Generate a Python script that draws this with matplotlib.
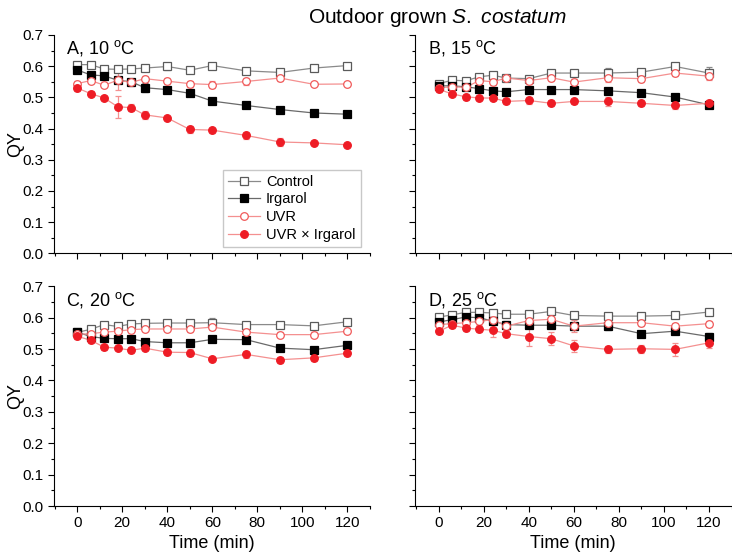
import matplotlib
matplotlib.use("Agg")
import matplotlib.pyplot as plt
from matplotlib.ticker import MultipleLocator

plt.rcParams["font.family"] = ["Liberation Sans", "DejaVu Sans"]
plt.rcParams["mathtext.fontset"] = "custom"
plt.rcParams["mathtext.rm"] = "Liberation Sans"
plt.rcParams["mathtext.it"] = "Liberation Sans:italic"
plt.rcParams["mathtext.default"] = "regular"

TIME = [0, 6, 12, 18, 24, 30, 40, 50, 60, 75, 90, 105, 120]

PANELS = ["A, 10 $^{o}$C", "B, 15 $^{o}$C", "C, 20 $^{o}$C", "D, 25 $^{o}$C"]
SERIES = ["Control", "Irgarol", "UVR", "UVR \u00d7 Irgarol"]

# mean QY per panel, per series
A_CTRL = [0.605, 0.605, 0.591, 0.590, 0.591, 0.594, 0.599, 0.587, 0.602, 0.585, 0.580, 0.594, 0.602]
A_IRG = [0.588, 0.572, 0.569, 0.555, 0.550, 0.531, 0.525, 0.513, 0.488, 0.474, 0.461, 0.450, 0.446]
A_UVR = [0.544, 0.554, 0.539, 0.555, 0.548, 0.560, 0.552, 0.544, 0.541, 0.551, 0.562, 0.542, 0.543]
A_UI = [0.530, 0.512, 0.498, 0.470, 0.467, 0.444, 0.434, 0.397, 0.395, 0.378, 0.357, 0.354, 0.348]

B_CTRL = [0.544, 0.555, 0.553, 0.566, 0.571, 0.562, 0.560, 0.578, 0.578, 0.578, 0.581, 0.599, 0.578]
B_IRG = [0.537, 0.537, 0.534, 0.528, 0.521, 0.518, 0.525, 0.525, 0.525, 0.521, 0.515, 0.501, 0.476]
B_UVR = [0.531, 0.534, 0.532, 0.554, 0.550, 0.562, 0.554, 0.563, 0.549, 0.563, 0.560, 0.578, 0.568]
B_UI = [0.526, 0.511, 0.502, 0.498, 0.498, 0.487, 0.490, 0.481, 0.487, 0.487, 0.481, 0.474, 0.481]

C_CTRL = [0.553, 0.563, 0.578, 0.572, 0.580, 0.582, 0.583, 0.583, 0.584, 0.578, 0.578, 0.574, 0.587]
C_IRG = [0.554, 0.540, 0.534, 0.533, 0.533, 0.524, 0.520, 0.520, 0.531, 0.530, 0.503, 0.498, 0.512]
C_UVR = [0.547, 0.549, 0.554, 0.557, 0.562, 0.564, 0.564, 0.564, 0.570, 0.554, 0.546, 0.546, 0.557]
C_UI = [0.541, 0.528, 0.506, 0.503, 0.496, 0.503, 0.490, 0.489, 0.469, 0.483, 0.466, 0.472, 0.487]

D_CTRL = [0.602, 0.609, 0.617, 0.617, 0.615, 0.611, 0.611, 0.620, 0.607, 0.605, 0.605, 0.607, 0.618]
D_IRG = [0.586, 0.594, 0.602, 0.600, 0.589, 0.578, 0.576, 0.576, 0.573, 0.573, 0.549, 0.557, 0.540]
D_UVR = [0.578, 0.581, 0.584, 0.588, 0.594, 0.573, 0.591, 0.595, 0.573, 0.584, 0.584, 0.573, 0.581]
D_UI = [0.557, 0.576, 0.567, 0.563, 0.560, 0.549, 0.540, 0.533, 0.510, 0.499, 0.501, 0.499, 0.520]

# standard deviations (error bars)
A_CTRL_SD = [0.010, 0.005, 0.005, 0.010, 0.005, 0.005, 0.010, 0.005, 0.005, 0.008, 0.005, 0.005, 0.005]
A_IRG_SD = [0.005, 0.005, 0.005, 0.005, 0.010, 0.015, 0.008, 0.010, 0.008, 0.005, 0.008, 0.010, 0.010]
A_UVR_SD = [0.010, 0.008, 0.005, 0.030, 0.012, 0.008, 0.010, 0.010, 0.010, 0.010, 0.010, 0.005, 0.005]
A_UI_SD = [0.010, 0.008, 0.008, 0.035, 0.012, 0.012, 0.005, 0.012, 0.008, 0.010, 0.012, 0.005, 0.005]

B_CTRL_SD = [0.008, 0.008, 0.008, 0.005, 0.005, 0.005, 0.005, 0.010, 0.010, 0.015, 0.005, 0.005, 0.020]
B_IRG_SD = [0.005, 0.005, 0.008, 0.005, 0.005, 0.010, 0.008, 0.008, 0.008, 0.008, 0.005, 0.005, 0.008]
B_UVR_SD = [0.008, 0.005, 0.008, 0.010, 0.010, 0.005, 0.010, 0.010, 0.010, 0.015, 0.010, 0.010, 0.012]
B_UI_SD = [0.008, 0.005, 0.010, 0.008, 0.008, 0.008, 0.010, 0.010, 0.008, 0.015, 0.010, 0.010, 0.010]

C_CTRL_SD = [0.005, 0.005, 0.005, 0.005, 0.005, 0.005, 0.005, 0.005, 0.015, 0.005, 0.005, 0.005, 0.005]
C_IRG_SD = [0.008, 0.005, 0.005, 0.005, 0.005, 0.005, 0.005, 0.005, 0.005, 0.005, 0.005, 0.008, 0.008]
C_UVR_SD = [0.005, 0.005, 0.005, 0.005, 0.005, 0.008, 0.005, 0.010, 0.008, 0.005, 0.008, 0.008, 0.005]
C_UI_SD = [0.010, 0.008, 0.008, 0.005, 0.010, 0.005, 0.008, 0.010, 0.005, 0.010, 0.010, 0.010, 0.008]

D_CTRL_SD = [0.005, 0.005, 0.005, 0.005, 0.005, 0.005, 0.005, 0.005, 0.005, 0.005, 0.005, 0.008, 0.005]
D_IRG_SD = [0.008, 0.008, 0.008, 0.008, 0.008, 0.010, 0.008, 0.010, 0.010, 0.012, 0.010, 0.010, 0.010]
D_UVR_SD = [0.008, 0.008, 0.008, 0.010, 0.015, 0.010, 0.025, 0.010, 0.020, 0.010, 0.010, 0.010, 0.010]
D_UI_SD = [0.008, 0.008, 0.008, 0.010, 0.020, 0.012, 0.030, 0.020, 0.020, 0.010, 0.012, 0.020, 0.015]

MEANS = [
    [A_CTRL, A_IRG, A_UVR, A_UI],
    [B_CTRL, B_IRG, B_UVR, B_UI],
    [C_CTRL, C_IRG, C_UVR, C_UI],
    [D_CTRL, D_IRG, D_UVR, D_UI],
]
SDS = [
    [A_CTRL_SD, A_IRG_SD, A_UVR_SD, A_UI_SD],
    [B_CTRL_SD, B_IRG_SD, B_UVR_SD, B_UI_SD],
    [C_CTRL_SD, C_IRG_SD, C_UVR_SD, C_UI_SD],
    [D_CTRL_SD, D_IRG_SD, D_UVR_SD, D_UI_SD],
]

# marker, facecolor, edgecolor, line colour
STYLES = [
    ("s", "white", "#5a5a5a", "#8a8a8a"),
    ("s", "black", "black", "#6a6a6a"),
    ("o", "white", "#f05a5a", "#f49090"),
    ("o", "#ee1c25", "#ee1c25", "#f49090"),
]

W, H = 732, 558
fig = plt.figure(figsize=(W / 100, H / 100), dpi=100)

# axes rectangles in pixels: left, top, right, bottom
RECTS = [
    (53.5, 35, 370, 253.3),
    (415, 35, 731.5, 253.3),
    (53.5, 286.3, 370, 506),
    (415, 286.3, 731.5, 506),
]

axes = []
for i, (l, t, r, b) in enumerate(RECTS):
    ax = fig.add_axes([l / W, 1 - b / H, (r - l) / W, (b - t) / H])
    axes.append(ax)
    for j in range(4):
        mk, fc, ec, lc = STYLES[j]
        ax.plot(TIME, MEANS[i][j], color=lc, lw=0.9, zorder=2)
        ax.errorbar(TIME, MEANS[i][j], yerr=SDS[i][j], fmt="none",
                    ecolor=lc, elinewidth=0.9, capsize=2, capthick=0.9, zorder=2)
        ax.plot(TIME, MEANS[i][j], ls="none", marker=mk, ms=5.5,
                mfc=fc, mec=ec, mew=0.9, zorder=3, label=SERIES[j])

    ax.set_xlim(-10.5, 130)
    ax.set_ylim(0, 0.7)
    ax.xaxis.set_major_locator(MultipleLocator(20))
    ax.xaxis.set_minor_locator(MultipleLocator(10))
    ax.yaxis.set_major_locator(MultipleLocator(0.1))
    ax.yaxis.set_minor_locator(MultipleLocator(0.05))
    ax.spines["top"].set_visible(False)
    ax.spines["right"].set_visible(False)
    ax.tick_params(which="major", direction="out", length=4, width=0.8, labelsize=11)
    ax.tick_params(which="minor", direction="out", length=2.5, width=0.8)
    if i < 2:
        ax.tick_params(axis="x", labelbottom=False)
    else:
        ax.set_xlabel("Time (min)", fontsize=13, labelpad=3)
    if i % 2 == 1:
        ax.tick_params(axis="y", labelleft=False)
    else:
        ax.set_yticks([0, 0.1, 0.2, 0.3, 0.4, 0.5, 0.6, 0.7])
        ax.set_yticklabels(["0.0", "0.1", "0.2", "0.3", "0.4", "0.5", "0.6", "0.7"])
        ax.set_ylabel("QY", fontsize=13)
        ax.yaxis.set_label_coords((24 - l) / (r - l), 0.5)
    ax.text(0.04, 0.985, PANELS[i], transform=ax.transAxes, fontsize=13,
            ha="left", va="top")

axes[0].legend(loc="lower right", bbox_to_anchor=(0.97, 0.03), fontsize=10.5,
               frameon=True, fancybox=False, edgecolor="#bbbbbb",
               handlelength=2.2, handletextpad=0.4, borderpad=0.35,
               labelspacing=0.25, borderaxespad=0)
# legend handles show line + marker
leg = axes[0].get_legend()
for h, (mk, fc, ec, lc) in zip(leg.legend_handles, STYLES):
    h.set_linestyle("-")
    h.set_color(lc)
    h.set_linewidth(0.9)
    h.set_markerfacecolor(fc)
    h.set_markeredgecolor(ec)

fig.text(0.598, 0.968, "Outdoor grown $\\it{S.\\ costatum}$", ha="center",
         va="center", fontsize=15)

fig.savefig("out.png", dpi=100)
